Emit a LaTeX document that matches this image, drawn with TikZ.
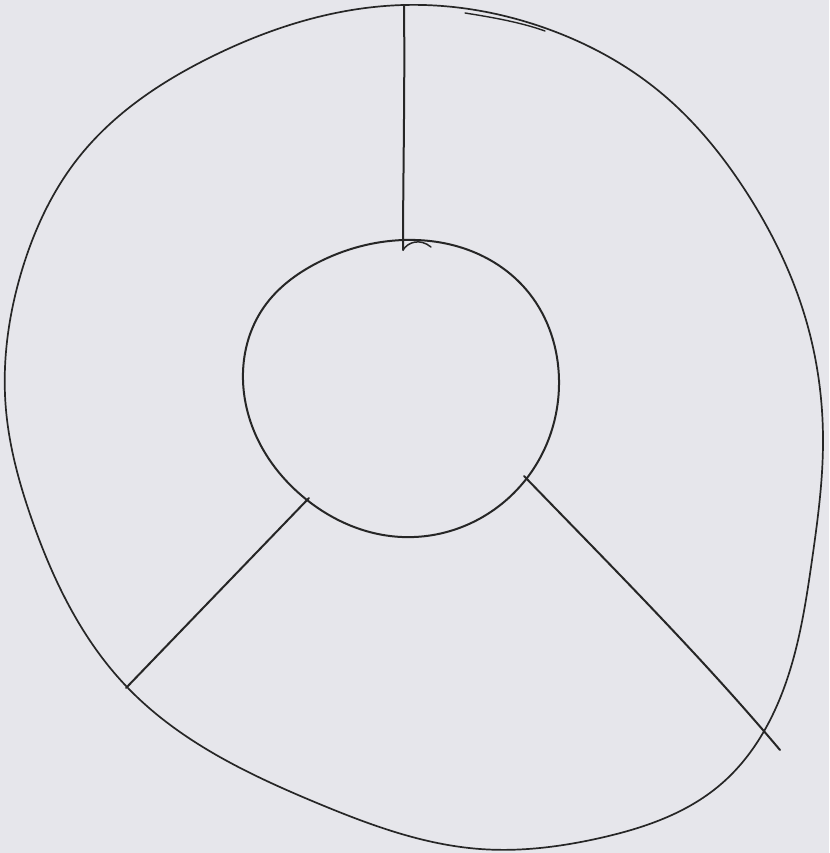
\documentclass[tikz,border=0pt]{standalone}
\usetikzlibrary{hobby}
\begin{document}
\begin{tikzpicture}[x=1pt,y=-1pt,
  pen/.style={draw=black!85, line width=2pt, line cap=round, line join=round}]
\definecolor{paper}{RGB}{230,230,235}
\fill[paper] (0,0) rectangle (829,853);
\useasboundingbox (0,0) rectangle (829,853);
% outer ring
\draw[pen, line width=1.7pt, use Hobby shortcut, closed=true]
 (404,5) .. (545,28) .. (660,92) .. (745,190) .. (806,320) .. (823,440)
 .. (812,560) .. (784,688) .. (720,785) .. (600,838) .. (480,849) .. (317,803) .. (127,687)
 .. (32,520) .. (6,410) .. (22,270) .. (79,157) .. (211,57);
% pen overlap near top right
\draw[pen, line width=1.4pt] (465,13) .. controls (490,17) and (520,22) .. (545,31);
% inner circle
\draw[pen, use Hobby shortcut, closed=true]
 (404,240) .. (476,253) .. (529,293) .. (559,380) .. (523,483)
 .. (402,537) .. (307,500) .. (245,400) .. (264,307) .. (317,263);
% spokes
\coordinate (t1) at (404,5);
\coordinate (t2) at (403,250);
\draw[pen] (t1) .. controls (405,90) and (403,180) .. (t2);
\draw[pen, line width=1.5pt] (t2) .. controls (408,242) and (420,238) .. (431,247);
\coordinate (l1) at (309,498);
\coordinate (l2) at (126,688);
\draw[pen] (l1) -- (l2);
\coordinate (r1) at (524,476);
\coordinate (r2) at (780,750);
\draw[pen] (r1) .. controls (610,565) and (700,655) .. (r2);
\end{tikzpicture}
\end{document}
